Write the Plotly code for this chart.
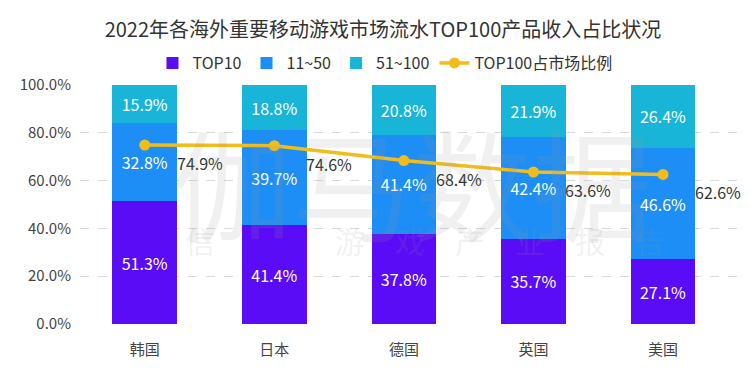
import plotly.graph_objects as go

categories = ["韩国", "日本", "德国", "英国", "美国"]
top10 = [51.3, 41.4, 37.8, 35.7, 27.1]
mid = [32.8, 39.7, 41.4, 42.4, 46.6]
tail = [15.9, 18.8, 20.8, 21.9, 26.4]
share = [74.9, 74.6, 68.4, 63.6, 62.6]
yticks = [0, 20, 40, 60, 80, 100]

font = "Noto Sans CJK SC"
fig = go.Figure()
for name, vals, col in [("TOP10", top10, "#5A0CF6"), ("11~50", mid, "#1C8EF6"), ("51~100", tail, "#19B5D8")]:
    fig.add_trace(go.Bar(
        name=name, x=categories, y=vals, marker_color=col, marker_line_width=0,
        text=[f"{v:.1f}%" for v in vals], textposition="inside", insidetextanchor="middle",
        textfont=dict(color="white", size=16, family=font), width=0.5,
    ))
fig.add_trace(go.Scatter(
    name="TOP100占市场比例", x=categories, y=share, mode="lines+markers",
    line=dict(color="#F2BC1C", width=3.5), marker=dict(size=11, color="#F2BC1C"),
))
for c, v in zip(categories, share):
    fig.add_annotation(x=c, y=v, text=f"{v:.1f}%", showarrow=False, xref="x", yref="y",
                       xshift=55, yshift=-18, font=dict(size=16, color="#333", family=font))

fig.add_annotation(x=0.5, y=0.6, xref="paper", yref="paper", text="伽马数据", showarrow=False,
                   font=dict(size=120, color="rgba(150,150,150,0.14)", family=font))
fig.add_annotation(x=0.52, y=0.25, xref="paper", yref="paper", text="信　　　　游　戏　产　业　报　告", showarrow=False,
                   font=dict(size=30, color="rgba(150,150,150,0.14)", family=font))

fig.update_layout(
    width=750, height=375, barmode="stack", plot_bgcolor="white", paper_bgcolor="white",
    margin=dict(l=72, r=15, t=77, b=59, autoexpand=False),
    title=dict(text="2022年各海外重要移动游戏市场流水TOP100产品收入占比状况", x=0.5, xanchor="center",
               y=0.941, yanchor="middle", font=dict(size=20, color="#333", family=font)),
    legend=dict(orientation="h", x=0.46, xanchor="center", y=1.092, yanchor="middle",
                font=dict(size=16, color="#333", family=font), traceorder="normal", itemwidth=30),
    font=dict(family=font),
    showlegend=True,
)
fig.update_yaxes(range=[0, 100], tickvals=yticks, ticktext=[f"{t:.1f}%" for t in yticks],
                 showgrid=True, gridcolor="#d9d9d9", griddash="dash", zeroline=False,
                 tickfont=dict(size=15, color="#444"), ticks="", ticklabelstandoff=8, automargin=False)
fig.update_xaxes(tickfont=dict(size=15, color="#444"), showline=False, automargin=False,
                 ticklabelstandoff=15)
fig.write_html("out.html")
